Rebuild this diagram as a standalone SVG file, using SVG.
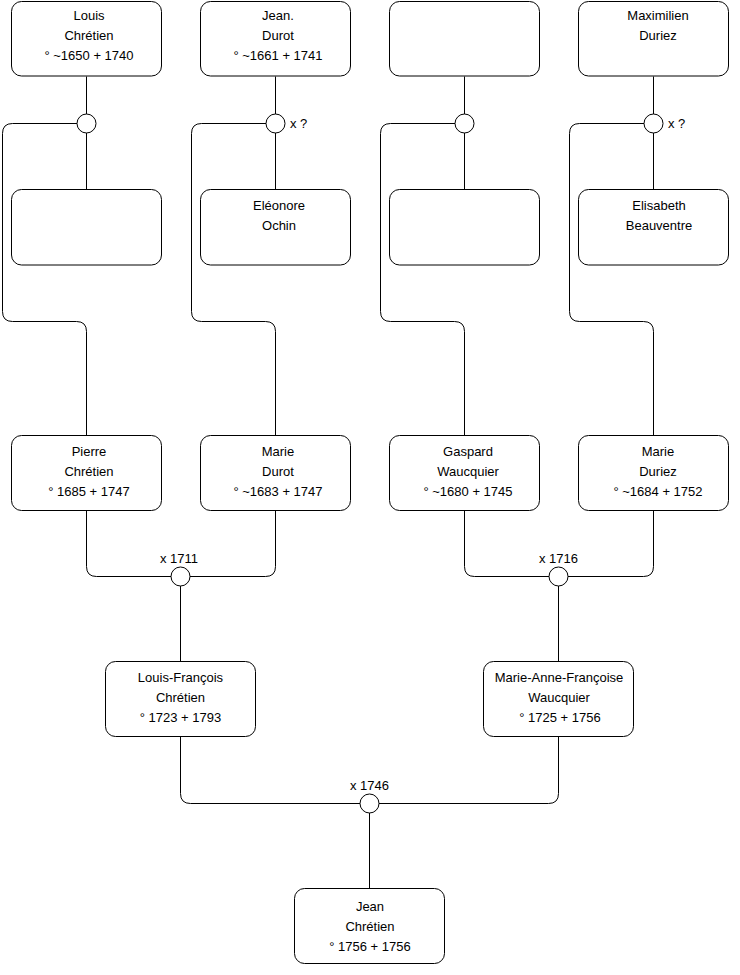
<svg xmlns="http://www.w3.org/2000/svg" width="740" height="975" viewBox="0 0 740 975">
<style>
.box{fill:#fff;stroke:#000;stroke-width:1}
.c{fill:none;stroke:#000;stroke-width:1}
.m{fill:#fff;stroke:#000;stroke-width:1}
text{font-family:"Liberation Sans",Arial,sans-serif;font-size:13px;fill:#000}
.t{text-anchor:middle}
</style>
<rect width="740" height="975" fill="#fff"/>
<g id="connectors">
<path class="c" d="M86.5,76.5V189.5M275.5,76.5V189.5M464.5,76.5V189.5M653.5,76.5V189.5"/>
<path class="c" d="M77,123.5H12.5Q2.5,123.5 2.5,133.5V311.5Q2.5,321.5 12.5,321.5H76.5Q86.5,321.5 86.5,331.5V435.5"/>
<path class="c" d="M266,123.5H201.5Q191.5,123.5 191.5,133.5V311.5Q191.5,321.5 201.5,321.5H265.5Q275.5,321.5 275.5,331.5V435.5"/>
<path class="c" d="M455,123.5H390.5Q380.5,123.5 380.5,133.5V311.5Q380.5,321.5 390.5,321.5H454.5Q464.5,321.5 464.5,331.5V435.5"/>
<path class="c" d="M644,123.5H579.5Q569.5,123.5 569.5,133.5V311.5Q569.5,321.5 579.5,321.5H643.5Q653.5,321.5 653.5,331.5V435.5"/>
<path class="c" d="M86.5,510.5V566.5Q86.5,576.5 96.5,576.5H265.5Q275.5,576.5 275.5,566.5V510.5M180.5,576.5V661.5"/>
<path class="c" d="M464.5,510.5V566.5Q464.5,576.5 474.5,576.5H643.5Q653.5,576.5 653.5,566.5V510.5M558.5,576.5V661.5"/>
<path class="c" d="M180.5,736.5V793.5Q180.5,803.5 190.5,803.5H548.5Q558.5,803.5 558.5,793.5V736.5M369.5,803.5V888.5"/>
<circle class="m" cx="86.5" cy="123.5" r="9.5"/>
<circle class="m" cx="275.5" cy="123.5" r="9.5"/>
<circle class="m" cx="464.5" cy="123.5" r="9.5"/>
<circle class="m" cx="653.5" cy="123.5" r="9.5"/>
<circle class="m" cx="180.5" cy="576.5" r="9.5"/>
<circle class="m" cx="558.5" cy="576.5" r="9.5"/>
<circle class="m" cx="369.5" cy="803.5" r="9.5"/>
<text x="290" y="128">x ?</text>
<text x="668" y="128">x ?</text>
<text x="160" y="563">x 1711</text>
<text x="539" y="563">x 1716</text>
<text x="350" y="790">x 1746</text>
</g>
<g id="louis-chretien">
<rect class="box" x="11.5" y="1.5" width="150" height="74.5" rx="10"/>
<text class="t" x="89" y="20">Louis</text>
<text class="t" x="89" y="40">Chrétien</text>
<text class="t" x="89" y="60">° ~1650 + 1740</text>
</g>
<g id="jean-durot">
<rect class="box" x="200.5" y="1.5" width="150" height="74.5" rx="10"/>
<text class="t" x="278" y="20">Jean.</text>
<text class="t" x="278" y="40">Durot</text>
<text class="t" x="278" y="60">° ~1661 + 1741</text>
</g>
<g id="unknown-1">
<rect class="box" x="389.5" y="1.5" width="150" height="74.5" rx="10"/>
</g>
<g id="maximilien-duriez">
<rect class="box" x="578.5" y="1.5" width="150" height="74.5" rx="10"/>
<text class="t" x="658" y="20">Maximilien</text>
<text class="t" x="658" y="40">Duriez</text>
</g>
<g id="unknown-2">
<rect class="box" x="11.5" y="189.5" width="150" height="75.5" rx="10"/>
</g>
<g id="eleonore-ochin">
<rect class="box" x="200.5" y="189.5" width="150" height="75.5" rx="10"/>
<text class="t" x="279" y="210">Eléonore</text>
<text class="t" x="279" y="230">Ochin</text>
</g>
<g id="unknown-3">
<rect class="box" x="389.5" y="189.5" width="150" height="75.5" rx="10"/>
</g>
<g id="elisabeth-beauventre">
<rect class="box" x="578.5" y="189.5" width="150" height="75.5" rx="10"/>
<text class="t" x="659" y="210">Elisabeth</text>
<text class="t" x="659" y="230">Beauventre</text>
</g>
<g id="pierre-chretien">
<rect class="box" x="11.5" y="435.5" width="150" height="75" rx="10"/>
<text class="t" x="89" y="455.5">Pierre</text>
<text class="t" x="89" y="475.5">Chrétien</text>
<text class="t" x="89" y="495.5">° 1685 + 1747</text>
</g>
<g id="marie-durot">
<rect class="box" x="200.5" y="435.5" width="150" height="75" rx="10"/>
<text class="t" x="278" y="455.5">Marie</text>
<text class="t" x="278" y="475.5">Durot</text>
<text class="t" x="278" y="495.5">° ~1683 + 1747</text>
</g>
<g id="gaspard-waucquier">
<rect class="box" x="389.5" y="435.5" width="150" height="75" rx="10"/>
<text class="t" x="468" y="455.5">Gaspard</text>
<text class="t" x="468" y="475.5">Waucquier</text>
<text class="t" x="468" y="495.5">° ~1680 + 1745</text>
</g>
<g id="marie-duriez">
<rect class="box" x="578.5" y="435.5" width="150" height="75" rx="10"/>
<text class="t" x="658" y="455.5">Marie</text>
<text class="t" x="658" y="475.5">Duriez</text>
<text class="t" x="658" y="495.5">° ~1684 + 1752</text>
</g>
<g id="louis-francois-chretien">
<rect class="box" x="105.5" y="661.5" width="150" height="75" rx="10"/>
<text class="t" x="180.5" y="682">Louis-François</text>
<text class="t" x="180.5" y="702">Chrétien</text>
<text class="t" x="180.5" y="722">° 1723 + 1793</text>
</g>
<g id="marie-anne-francoise-waucquier">
<rect class="box" x="483.5" y="661.5" width="150" height="75" rx="10"/>
<text class="t" x="559" y="682">Marie-Anne-Françoise</text>
<text class="t" x="559" y="702">Waucquier</text>
<text class="t" x="560" y="722">° 1725 + 1756</text>
</g>
<g id="jean-chretien">
<rect class="box" x="294.5" y="888.5" width="150" height="75" rx="10"/>
<text class="t" x="370" y="910.5">Jean</text>
<text class="t" x="370" y="930.5">Chrétien</text>
<text class="t" x="370" y="950.5">° 1756 + 1756</text>
</g>
</svg>
